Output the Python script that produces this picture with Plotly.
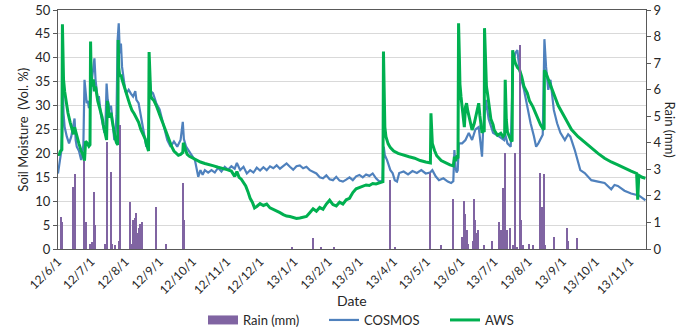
import plotly.graph_objects as go

# ---------------- data ----------------
rain_dates = [
    "2012-06-04", "2012-06-05", "2012-06-15", "2012-06-16", "2012-06-25", "2012-06-26",
    "2012-06-30", "2012-07-02", "2012-07-04", "2012-07-05", "2012-07-14", "2012-07-15",
    "2012-07-19", "2012-07-20", "2012-07-23", "2012-07-26", "2012-07-27", "2012-08-05",
    "2012-08-06", "2012-08-08", "2012-08-10", "2012-08-11", "2012-08-12", "2012-08-13",
    "2012-08-14", "2012-08-16", "2012-08-29", "2012-09-07", "2012-09-22", "2012-09-23",
    "2012-12-30", "2013-01-18", "2013-01-25", "2013-02-06", "2013-03-29", "2013-04-02",
    "2013-05-04", "2013-05-14", "2013-05-25", "2013-06-02", "2013-06-04", "2013-06-05",
    "2013-06-06", "2013-06-07", "2013-06-12", "2013-06-13", "2013-06-14", "2013-06-15",
    "2013-06-16", "2013-06-22", "2013-06-29", "2013-07-05", "2013-07-07", "2013-07-09",
    "2013-07-11", "2013-07-13", "2013-07-15", "2013-07-18", "2013-07-20", "2013-07-22",
    "2013-07-24", "2013-07-25", "2013-07-27", "2013-08-02", "2013-08-05", "2013-08-12",
    "2013-08-13", "2013-08-14", "2013-08-15", "2013-08-16", "2013-08-24", "2013-09-05",
    "2013-09-06", "2013-09-14",
]
rain_mm = [
    1.22, 1.0, 2.35, 2.82, 3.3, 1.0,
    0.2, 0.25, 2.16, 0.9, 0.2, 4.04,
    2.91, 0.2, 0.15, 0.3, 4.67, 1.78,
    0.2, 1.1, 1.15, 1.37, 0.6, 0.8,
    0.95, 1.0, 1.6, 0.2, 2.5, 1.09,
    0.09, 0.4, 0.09, 0.09, 2.6, 0.09,
    2.85, 0.15, 1.9, 0.45, 1.8, 1.3,
    0.7, 0.2, 0.3, 1.9, 1.1, 0.6,
    0.7, 0.15, 0.3, 1.0, 0.7, 2.28,
    3.6, 0.7, 0.8, 0.15, 3.6, 0.09,
    7.68, 1.09, 0.15, 0.2, 0.15, 2.87,
    1.6, 1.6, 2.82, 0.15, 0.45, 0.8,
    0.3, 0.4,
]

cosmos_dates = [
    "2012-06-01", "2012-06-02", "2012-06-03", "2012-06-04", "2012-06-04 18:00", "2012-06-05 12:00",
    "2012-06-06", "2012-06-07", "2012-06-09", "2012-06-11", "2012-06-13", "2012-06-15",
    "2012-06-16", "2012-06-17", "2012-06-18", "2012-06-20", "2012-06-22", "2012-06-23",
    "2012-06-24", "2012-06-25", "2012-06-26", "2012-06-27", "2012-06-28", "2012-06-29",
    "2012-06-30", "2012-07-01", "2012-07-02", "2012-07-04", "2012-07-05", "2012-07-07",
    "2012-07-08", "2012-07-10", "2012-07-12", "2012-07-13", "2012-07-14", "2012-07-15",
    "2012-07-16", "2012-07-18", "2012-07-19", "2012-07-20", "2012-07-21", "2012-07-22",
    "2012-07-23", "2012-07-24", "2012-07-25", "2012-07-26", "2012-07-27", "2012-07-28",
    "2012-07-29", "2012-07-30", "2012-08-01", "2012-08-02", "2012-08-04", "2012-08-06",
    "2012-08-08", "2012-08-10", "2012-08-11", "2012-08-13", "2012-08-14", "2012-08-16",
    "2012-08-17", "2012-08-19", "2012-08-20", "2012-08-21", "2012-08-22", "2012-08-23",
    "2012-08-24", "2012-08-26", "2012-08-29", "2012-09-01", "2012-09-05", "2012-09-08",
    "2012-09-11", "2012-09-14", "2012-09-17", "2012-09-20", "2012-09-22", "2012-09-23",
    "2012-09-25", "2012-09-29", "2012-10-03", "2012-10-06", "2012-10-08", "2012-10-10",
    "2012-10-12", "2012-10-15", "2012-10-18", "2012-10-21", "2012-10-24", "2012-10-27",
    "2012-10-30", "2012-11-02", "2012-11-05", "2012-11-08", "2012-11-10", "2012-11-13",
    "2012-11-16", "2012-11-19", "2012-11-22", "2012-11-25", "2012-11-28", "2012-12-01",
    "2012-12-04", "2012-12-07", "2012-12-10", "2012-12-13", "2012-12-16", "2012-12-19",
    "2012-12-22", "2012-12-25", "2012-12-28", "2012-12-31", "2013-01-03", "2013-01-06",
    "2013-01-09", "2013-01-12", "2013-01-15", "2013-01-18", "2013-01-21", "2013-01-24",
    "2013-01-27", "2013-01-30", "2013-02-02", "2013-02-05", "2013-02-08", "2013-02-11",
    "2013-02-14", "2013-02-17", "2013-02-20", "2013-02-23", "2013-02-26", "2013-03-01",
    "2013-03-04", "2013-03-07", "2013-03-10", "2013-03-13", "2013-03-16", "2013-03-19",
    "2013-03-22", "2013-03-23", "2013-03-24", "2013-03-26", "2013-03-29", "2013-03-31",
    "2013-04-02", "2013-04-04", "2013-04-06", "2013-04-10", "2013-04-14", "2013-04-18",
    "2013-04-22", "2013-04-26", "2013-04-30", "2013-05-04", "2013-05-06", "2013-05-09",
    "2013-05-12", "2013-05-16", "2013-05-20", "2013-05-23", "2013-05-25", "2013-05-26",
    "2013-05-27", "2013-05-28", "2013-05-29", "2013-05-30", "2013-06-02", "2013-06-05",
    "2013-06-08", "2013-06-11", "2013-06-14", "2013-06-17", "2013-06-18", "2013-06-20",
    "2013-06-21", "2013-06-23 12:00", "2013-06-26", "2013-06-30", "2013-07-05", "2013-07-10",
    "2013-07-11", "2013-07-13", "2013-07-16", "2013-07-18", "2013-07-20", "2013-07-22",
    "2013-07-23", "2013-07-25", "2013-07-28", "2013-07-31", "2013-08-03", "2013-08-06",
    "2013-08-08", "2013-08-10", "2013-08-14", "2013-08-15 12:00", "2013-08-17", "2013-08-19",
    "2013-08-21", "2013-08-24", "2013-08-27", "2013-08-30", "2013-09-03", "2013-09-06",
    "2013-09-08", "2013-09-12", "2013-09-15", "2013-09-17", "2013-09-21", "2013-09-24",
    "2013-09-27", "2013-10-03", "2013-10-09", "2013-10-15", "2013-10-18", "2013-10-21",
    "2013-10-27", "2013-11-02", "2013-11-09", "2013-11-15",
]
cosmos_sm = [
    15.8, 17.5, 19.5, 20.5, 24.0, 34.0,
    28.4, 25.5, 23.5, 22.1, 23.5, 25.6,
    27.3, 22.8, 21.4, 20.5, 18.6, 19.5,
    22.0, 35.4, 31.9, 30.5, 31.0, 29.5,
    30.0, 33.0, 36.0, 39.9, 35.4, 31.2,
    32.0, 27.9, 25.5, 24.3, 26.0, 34.6,
    31.2, 29.2, 30.0, 27.2, 25.0, 22.8,
    24.0, 28.0, 43.7, 47.2, 40.9, 43.0,
    38.1, 36.0, 33.0, 32.6, 33.3, 32.5,
    31.9, 33.0, 31.2, 30.5, 29.2, 27.0,
    25.5, 23.0, 21.4, 22.5, 24.0, 36.0,
    33.0, 32.6, 30.5, 29.2, 25.5, 22.8,
    21.4, 22.5, 21.4, 22.8, 26.6, 23.0,
    21.4, 20.0, 18.6, 15.1, 16.5, 15.5,
    16.5, 16.0, 16.5, 16.0, 17.0, 16.2,
    17.2, 16.6, 17.3, 16.8, 18.0, 16.5,
    17.2, 15.8, 16.5, 16.0, 17.0, 16.4,
    17.1, 16.5, 17.3, 16.9, 17.5, 16.8,
    17.4, 17.9, 17.2, 16.6, 17.3, 17.5,
    16.9, 17.2, 16.5, 16.2, 15.8, 15.0,
    14.8, 15.4, 14.6, 14.4, 15.1, 14.3,
    14.1, 14.5, 15.0, 14.4, 15.2, 15.5,
    15.0, 15.6, 15.3, 15.8, 14.8, 14.1,
    14.3, 21.4, 19.6, 18.6, 16.5, 15.9,
    14.4, 14.1, 15.9, 16.2, 15.6, 16.3,
    15.9, 16.5, 15.8, 16.0, 16.5, 15.2,
    14.4, 14.8, 14.1, 13.8, 14.2, 20.7,
    17.0, 16.0, 16.5, 22.1, 22.1, 22.8,
    24.3, 22.8, 25.0, 25.5, 23.5, 19.3,
    25.0, 31.2, 27.2, 24.3, 23.6, 22.8,
    24.0, 22.1, 21.4, 38.1, 40.9, 41.6,
    39.5, 36.0, 33.3, 29.7, 26.3, 23.6,
    21.4, 22.1, 23.9, 43.9, 38.1, 33.3,
    35.4, 29.1, 26.3, 24.3, 22.8, 24.0,
    23.5, 20.7, 18.0, 16.5, 15.9, 15.2,
    14.4, 14.1, 13.8, 12.5, 13.4, 13.2,
    12.2, 11.6, 11.2, 10.2,
]

aws_dates = [
    "2012-06-01", "2012-06-02", "2012-06-03", "2012-06-04 12:00", "2012-06-05", "2012-06-05 12:00",
    "2012-06-06", "2012-06-07", "2012-06-08", "2012-06-09", "2012-06-10", "2012-06-12",
    "2012-06-14", "2012-06-15", "2012-06-16", "2012-06-18", "2012-06-20", "2012-06-22",
    "2012-06-24", "2012-06-25", "2012-06-26", "2012-06-27", "2012-06-28", "2012-06-29",
    "2012-06-30", "2012-06-30 12:00", "2012-07-01", "2012-07-02", "2012-07-03", "2012-07-04",
    "2012-07-05", "2012-07-07", "2012-07-09", "2012-07-11", "2012-07-12", "2012-07-14",
    "2012-07-15", "2012-07-15 18:00", "2012-07-16", "2012-07-17", "2012-07-18", "2012-07-19",
    "2012-07-20", "2012-07-21", "2012-07-22", "2012-07-23", "2012-07-24", "2012-07-25 06:00",
    "2012-07-25 12:00", "2012-07-26", "2012-07-27", "2012-07-28", "2012-07-29", "2012-07-31",
    "2012-08-02", "2012-08-04", "2012-08-05", "2012-08-07", "2012-08-09", "2012-08-11",
    "2012-08-13", "2012-08-15", "2012-08-17", "2012-08-19", "2012-08-20", "2012-08-21",
    "2012-08-22", "2012-08-22 12:00", "2012-08-23", "2012-08-24", "2012-08-25", "2012-08-27",
    "2012-08-29", "2012-08-31", "2012-09-02", "2012-09-04", "2012-09-06", "2012-09-08",
    "2012-09-10", "2012-09-12", "2012-09-14", "2012-09-16", "2012-09-18", "2012-09-20",
    "2012-09-22", "2012-09-22 12:00", "2012-09-23", "2012-09-24", "2012-09-26", "2012-09-28",
    "2012-10-01", "2012-10-05", "2012-10-08", "2012-10-12", "2012-10-16", "2012-10-20",
    "2012-10-24", "2012-10-28", "2012-11-01", "2012-11-05", "2012-11-08", "2012-11-10",
    "2012-11-12", "2012-11-14", "2012-11-16", "2012-11-18", "2012-11-20", "2012-11-22",
    "2012-11-24", "2012-11-26", "2012-11-28", "2012-12-01", "2012-12-04", "2012-12-07",
    "2012-12-10", "2012-12-13", "2012-12-16", "2012-12-19", "2012-12-22", "2012-12-25",
    "2012-12-28", "2012-12-31", "2013-01-03", "2013-01-06", "2013-01-09", "2013-01-12",
    "2013-01-15", "2013-01-18", "2013-01-21", "2013-01-24", "2013-01-27", "2013-01-30",
    "2013-02-02", "2013-02-05", "2013-02-08", "2013-02-11", "2013-02-14", "2013-02-17",
    "2013-02-20", "2013-02-23", "2013-02-26", "2013-03-01", "2013-03-04", "2013-03-07",
    "2013-03-10", "2013-03-13", "2013-03-16", "2013-03-19", "2013-03-22 06:00", "2013-03-22 18:00",
    "2013-03-23 06:00", "2013-03-24", "2013-03-25", "2013-03-27", "2013-03-29", "2013-04-01",
    "2013-04-05", "2013-04-10", "2013-04-15", "2013-04-20", "2013-04-25", "2013-04-30",
    "2013-05-04 06:00", "2013-05-04 18:00", "2013-05-05 12:00", "2013-05-06", "2013-05-08", "2013-05-10",
    "2013-05-14", "2013-05-18", "2013-05-22", "2013-05-25", "2013-05-26", "2013-05-27",
    "2013-05-28", "2013-05-29 06:00", "2013-05-29 18:00", "2013-05-30 12:00", "2013-05-31", "2013-06-01",
    "2013-06-02", "2013-06-03", "2013-06-04", "2013-06-05", "2013-06-06", "2013-06-07",
    "2013-06-08", "2013-06-10", "2013-06-11", "2013-06-13", "2013-06-15", "2013-06-17",
    "2013-06-18", "2013-06-19", "2013-06-20", "2013-06-21", "2013-06-22", "2013-06-22 06:00",
    "2013-06-23 12:00", "2013-06-24", "2013-06-25", "2013-06-26", "2013-06-28", "2013-06-30",
    "2013-07-01", "2013-07-04", "2013-07-07", "2013-07-09", "2013-07-10 12:00", "2013-07-11",
    "2013-07-12", "2013-07-13", "2013-07-15", "2013-07-16", "2013-07-17 06:00", "2013-07-17 18:00",
    "2013-07-18 12:00", "2013-07-20", "2013-07-22", "2013-07-24", "2013-07-26", "2013-07-28",
    "2013-07-31", "2013-08-02", "2013-08-05", "2013-08-08", "2013-08-10", "2013-08-12",
    "2013-08-14", "2013-08-15 06:00", "2013-08-15 12:00", "2013-08-17", "2013-08-19", "2013-08-22",
    "2013-08-25", "2013-08-28", "2013-09-03", "2013-09-09", "2013-09-15", "2013-09-21",
    "2013-09-27", "2013-10-03", "2013-10-09", "2013-10-15", "2013-10-21", "2013-10-27",
    "2013-11-02", "2013-11-07", "2013-11-08", "2013-11-09", "2013-11-12", "2013-11-15",
]
aws_sm = [
    20.0, 19.6, 20.4, 20.8, 47.0, 38.0,
    35.5, 33.0, 31.5, 29.5, 28.5, 26.5,
    25.0, 24.0, 25.5, 23.5, 22.0, 20.5,
    19.5, 18.5, 22.5, 22.3, 22.0, 21.5,
    21.8, 43.4, 36.5, 34.0, 35.5, 33.0,
    34.0, 31.0, 29.5, 27.5, 26.0, 24.0,
    22.8, 31.0, 30.0, 28.5, 27.5, 28.5,
    27.0, 25.5, 24.0, 23.0, 22.2, 21.8,
    43.7, 38.0, 36.0, 36.5, 35.5, 34.0,
    32.0, 31.0, 30.3, 29.0, 28.3, 27.5,
    26.5, 25.0, 24.0, 23.0, 22.0, 21.0,
    20.5, 41.2, 36.0, 32.0, 31.5, 31.0,
    30.0, 28.5, 27.5, 26.3, 25.0, 23.6,
    22.5, 21.4, 20.5, 20.0, 19.6, 19.8,
    20.2, 22.2, 22.0, 21.0, 19.8, 19.4,
    19.0, 18.6, 18.2, 17.9, 17.7, 17.4,
    17.1, 16.9, 16.6, 16.3, 15.2, 16.2,
    15.0, 14.6, 13.8, 13.2, 12.0, 10.6,
    9.8, 8.6, 8.9, 9.5, 9.1, 9.4,
    8.6, 8.3, 8.0, 7.6, 7.2, 6.9,
    6.8, 6.6, 6.4, 6.5, 6.6, 6.8,
    7.6, 8.4, 7.9, 8.7, 8.3, 9.4,
    10.2, 9.3, 9.0, 9.8, 9.4, 10.3,
    10.6, 11.8, 12.6, 12.9, 13.2, 13.4,
    13.3, 13.7, 13.6, 13.8, 14.1, 41.3,
    30.0, 25.5, 23.5, 22.0, 21.2, 20.5,
    20.0, 19.6, 19.3, 19.0, 18.5, 18.2,
    18.0, 28.4, 25.0, 22.1, 20.6, 19.5,
    18.5, 18.0, 17.6, 17.4, 19.3, 18.4,
    19.2, 19.0, 47.2, 40.0, 34.5, 31.8,
    29.5, 28.0, 25.5, 29.7, 30.5, 29.0,
    27.9, 25.5, 24.9, 26.3, 28.4, 30.5,
    28.0, 26.3, 24.3, 24.8, 24.5, 46.2,
    39.5, 34.0, 32.5, 30.5, 27.2, 26.0,
    24.9, 23.8, 24.2, 23.5, 24.0, 35.4,
    27.0, 24.5, 23.2, 22.8, 22.5, 41.6,
    40.5, 39.0, 38.0, 37.5, 36.0, 34.0,
    32.6, 31.0, 29.8, 28.0, 27.0, 26.0,
    25.2, 25.0, 37.4, 36.8, 35.5, 33.6,
    31.8, 30.0, 27.5, 25.0, 23.5, 22.3,
    21.0, 20.0, 19.0, 18.2, 17.6, 16.9,
    16.3, 15.8, 10.3, 15.4, 15.0, 14.8,
]

tick_dates = [
    "2012-06-01", "2012-07-01", "2012-08-01", "2012-09-01", "2012-10-01", "2012-11-01",
    "2012-12-01", "2013-01-01", "2013-02-01", "2013-03-01", "2013-04-01", "2013-05-01",
    "2013-06-01", "2013-07-01", "2013-08-01", "2013-09-01", "2013-10-01", "2013-11-01",
]
tick_labels = [
    "12/6/1", "12/7/1", "12/8/1", "12/9/1", "12/10/1", "12/11/1",
    "12/12/1", "13/1/1", "13/2/1", "13/3/1", "13/4/1", "13/5/1",
    "13/6/1", "13/7/1", "13/8/1", "13/9/1", "13/10/1", "13/11/1",
]

# ---------------- figure ----------------
PURPLE = "#8064A2"
BLUE = "#4F81BD"
GREEN = "#00B050"
FRAME = "#595959"
FONT = "Lato, 'Open Sans', sans-serif"

fig = go.Figure()
fig.add_trace(go.Bar(
    x=rain_dates, y=rain_mm, name="Rain (mm)", yaxis="y2",
    marker=dict(color=PURPLE, line=dict(width=0)),
    width=86400000 * 1.0, showlegend=False, legendgroup="rain",
))
# legend entry for rain (wide swatch like the original)
fig.add_trace(go.Scatter(
    x=[None], y=[None], mode="lines", name="Rain (mm)", yaxis="y2",
    line=dict(color=PURPLE, width=9), legendgroup="rain",
))
fig.add_trace(go.Scatter(
    x=cosmos_dates, y=cosmos_sm, mode="lines", name="COSMOS",
    line=dict(color=BLUE, width=2.2),
))
fig.add_trace(go.Scatter(
    x=aws_dates, y=aws_sm, mode="lines", name="AWS",
    line=dict(color=GREEN, width=3),
))

fig.update_layout(
    width=696, height=332,
    margin=dict(l=58, r=50, t=10, b=83, autoexpand=False),
    paper_bgcolor="white", plot_bgcolor="white",
    font=dict(family=FONT, size=13, color="#262626"),
    bargap=0,
    legend=dict(
        orientation="h", xref="container", yref="container",
        x=203 / 696, xanchor="left", y=1 - 320 / 332, yanchor="middle",
        font=dict(size=13), itemwidth=30, traceorder="normal",
        entrywidth=76, entrywidthmode="pixels",
        bgcolor="rgba(0,0,0,0)",
    ),
    xaxis=dict(
        type="date", range=["2012-06-01", "2013-11-15 12:00"], automargin=False,
        tickmode="array", tickvals=tick_dates, ticktext=tick_labels,
        tickangle=-45, tickfont=dict(size=12),
        showgrid=False, zeroline=False,
        showline=True, linecolor=FRAME, linewidth=1, mirror=True,
        ticks="",
    ),
    yaxis=dict(
        range=[0, 50], dtick=5, tickfont=dict(size=13), automargin=False,
        showgrid=True, gridcolor="#D9D9D9", gridwidth=1, zeroline=False,
        showline=True, linecolor=FRAME, linewidth=1, mirror=True,
        ticks="outside", ticklen=4, tickcolor=FRAME,
    ),
    yaxis2=dict(
        range=[0, 9], dtick=1, overlaying="y", side="right", tickfont=dict(size=13),
        automargin=False,
        showgrid=False, zeroline=False,
        showline=True, linecolor=FRAME, linewidth=1,
        ticks="outside", ticklen=4, tickcolor=FRAME,
    ),
    annotations=[
        dict(text="Soil Moisture  (Vol. %)", xref="paper", yref="paper",
             x=-0.061, y=0.50, textangle=-90, showarrow=False,
             xanchor="center", yanchor="middle", font=dict(size=13)),
        dict(text="Rain (mm)", xref="paper", yref="paper",
             x=1.0425, y=0.50, textangle=90, showarrow=False,
             xanchor="center", yanchor="middle", font=dict(size=13)),
        dict(text="Date", xref="paper", yref="paper",
             x=0.50, y=-0.215, showarrow=False,
             xanchor="center", yanchor="middle", font=dict(size=14)),
    ],
)

fig.write_html(
    "out.html",
    config={"displayModeBar": False},
    post_script="document.body.style.margin='0';document.body.style.overflow='hidden';",
)
